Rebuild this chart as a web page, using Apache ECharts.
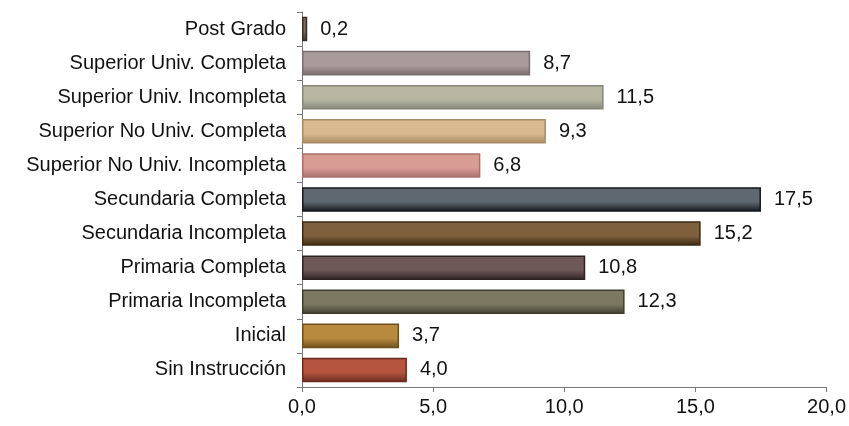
<!DOCTYPE html>
<html><head><meta charset="utf-8">
<script src="https://cdn.jsdelivr.net/npm/echarts@6/dist/echarts.min.js"></script>
<style>html,body{margin:0;padding:0;background:#fff}#c{width:849px;height:426px}</style>
</head><body><div id="c"></div>
<script>
const categories = ["Sin Instrucción","Inicial","Primaria Incompleta","Primaria Completa","Secundaria Incompleta","Secundaria Completa","Superior No Univ. Incompleta","Superior No Univ. Completa","Superior Univ. Incompleta","Superior Univ. Completa","Post Grado"];
const values = [4.0,3.7,12.3,10.8,15.2,17.5,6.8,9.3,11.5,8.7,0.2];
const barColors = ["#b5553f","#b78a40","#7c7862","#6e5757","#7e603d","#5f6770","#d89c94","#d8b990","#b6b6a3","#a99b9b","#7a6a5e"];
const borderColors = ["#6a2a1e","#6e4f1c","#3f3d2e","#2f2222","#3a2812","#15181c","#a8716a","#a88b64","#85857a","#7a6d6d","#3a2f28"];
const xTicks = [0,5,10,15,20];
const fmt = v => v.toFixed(1).replace('.', ',');
const FONT = 'Liberation Sans, Arial, sans-serif';
const chart = echarts.init(document.getElementById('c'), null, {renderer:'canvas'});
chart.setOption({
  animation:false,
  grid:{left:302,right:17,top:12,bottom:39,containLabel:false},
  xAxis:{type:'value',min:xTicks[0],max:xTicks[xTicks.length-1],interval:5,
    axisLine:{show:true,lineStyle:{color:'#777',width:1}},
    axisTick:{show:true,length:5,inside:false,lineStyle:{color:'#777'}},
    splitLine:{show:false},
    axisLabel:{formatter:fmt,color:'#111',fontSize:20,fontFamily:FONT,margin:10}},
  yAxis:{type:'category',data:categories,
    axisLine:{show:true,lineStyle:{color:'#777',width:1}},
    axisTick:{show:true,length:5,lineStyle:{color:'#777'}},
    axisLabel:{color:'#111',fontSize:20,fontFamily:FONT,margin:16}},
  series:[{type:'bar',barWidth:'72%',
    data:values.map((v,i)=>({value:v,itemStyle:{
      color:new echarts.graphic.LinearGradient(0,0,0,1,[
        {offset:0,color:barColors[i]},{offset:0.6,color:barColors[i]},{offset:1,color:borderColors[i]}]),
      borderColor:borderColors[i],borderWidth:1.5}})),
    label:{show:true,position:'right',distance:13,formatter:p=>fmt(p.value),color:'#111',fontSize:20,fontFamily:FONT}
  }]
});
</script></body></html>
